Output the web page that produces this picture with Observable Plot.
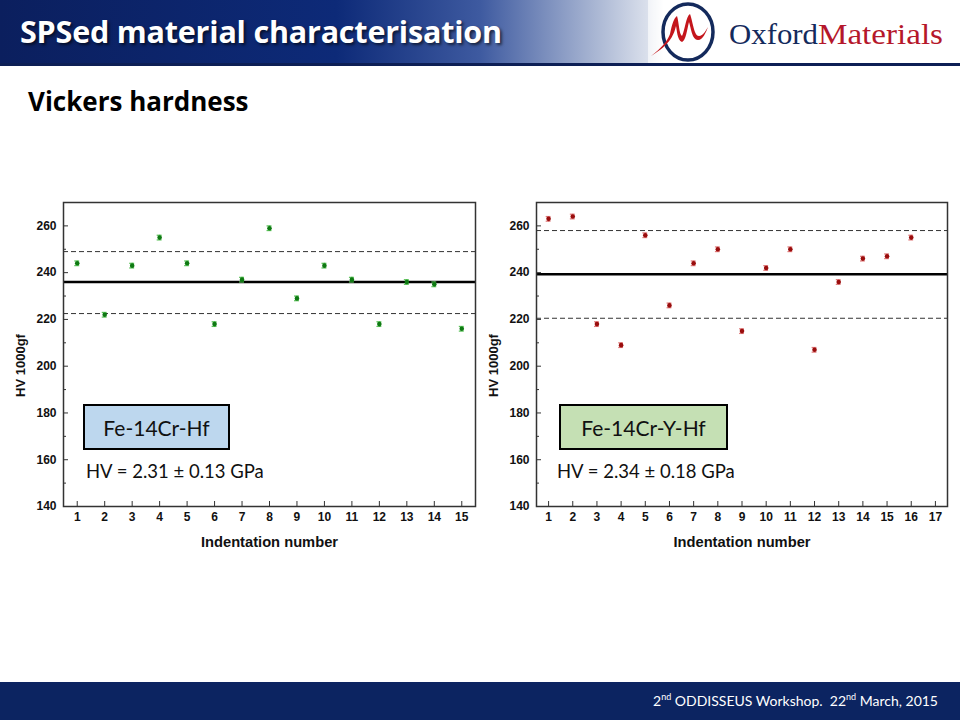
<!DOCTYPE html>
<html>
<head>
<meta charset="utf-8">
<script src="https://cdn.jsdelivr.net/npm/d3@7"></script>
<script src="https://cdn.jsdelivr.net/npm/@observablehq/plot@0.6"></script>
<style>
  html, body { margin: 0; padding: 0; }
  body { width: 960px; height: 720px; position: relative; overflow: hidden; background: #fff; font-family: Lato, "Open Sans", sans-serif; }
  #header { position: absolute; left: 0; top: 0; width: 960px; height: 63px;
    background: linear-gradient(to right, #0b1f5e 0%, #0d2a78 35%, #3e5aa0 50%, #a9b6d3 62%, #dfe4ee 68%); }
  #headline { position: absolute; left: 0; top: 63px; width: 960px; height: 3px; background: #0d1f55; }
  #title { position: absolute; left: 20px; top: 10px; color: #fff; font-family: "Open Sans", sans-serif; font-weight: 700; font-size: 30.5px; letter-spacing: -0.2px; text-shadow: 2px 2px 3px rgba(0,0,0,0.6); white-space: nowrap; }
  #logo { position: absolute; left: 648px; top: 0; }
  #sub { position: absolute; left: 28px; top: 83px; font-family: "Open Sans", sans-serif; font-weight: 700; font-size: 26px; color: #000; white-space: nowrap; }
  .chart { position: absolute; top: 190px; }
  .box { position: absolute; box-sizing: border-box; border: 2px solid #000; font-family: Lato, sans-serif; font-size: 21px; color: #111; display: flex; align-items: center; justify-content: center; }
  .hv { position: absolute; font-family: Lato, sans-serif; font-size: 18.5px; color: #111; white-space: nowrap; }
  #footer { position: absolute; left: 0; top: 682px; width: 960px; height: 38px; background: #0c2461; }
  #foottext { position: absolute; right: 22px; top: 691px; color: #fff; font-family: Lato, sans-serif; font-size: 14px; white-space: nowrap; }
  #foottext sup { font-size: 9px; }
</style>
</head>
<body>
<div id="header"></div>
<div id="headline"></div>
<div id="title">SPSed material characterisation</div>
<svg id="logo" width="312" height="63" viewBox="0 0 312 63">
  <defs>
    <linearGradient id="lg" x1="0" x2="1">
      <stop offset="0" stop-color="#fff" stop-opacity="0.6"/>
      <stop offset="0.05" stop-color="#fff" stop-opacity="1"/>
    </linearGradient>
  </defs>
  <rect x="0" y="0" width="312" height="63" fill="url(#lg)"/>
  <ellipse cx="40" cy="32" rx="25" ry="28" fill="none" stroke="#142a5c" stroke-width="3.5"/>
  <path d="M3,56 C14,48 20,40 22,34 C24,24 26,18 29,16 C31,22 31,34 34,36 C37,30 38,16 42,14 C45,22 46,36 51,36 C55,36 58,30 60,27 C58,32 55,40 50,40 C44,40 43,28 41,22 C39,30 38,40 34,42 C29,40 29,30 28,26 C26,34 23,44 3,56 Z" fill="#c4161c"/>
  <text x="81" y="44" font-family="Liberation Serif, serif" font-size="29" fill="#142a5c" textLength="89" lengthAdjust="spacingAndGlyphs">Oxford</text>
  <text x="170" y="44" font-family="Liberation Serif, serif" font-size="29" fill="#b5172b" textLength="125" lengthAdjust="spacingAndGlyphs">Materials</text>
</svg>
<div id="sub">Vickers hardness</div>

<div id="left" class="chart" style="left:0px"></div>
<div id="right" class="chart" style="left:480px"></div>

<div class="box" style="left:83px; top:404px; width:147px; height:46px; background:#bdd7ee;">Fe-14Cr-Hf</div>
<div class="hv" style="left:86px; top:460px;">HV = 2.31 ± 0.13 GPa</div>
<div class="box" style="left:559px; top:404px; width:169px; height:46px; background:#c5e0b4;">Fe-14Cr-Y-Hf</div>
<div class="hv" style="left:557px; top:460px;">HV = 2.34 ± 0.18 GPa</div>

<div id="footer"></div>
<div id="foottext">2<sup>nd</sup> ODDISSEUS Workshop.&nbsp; 22<sup>nd</sup> March, 2015</div>

<script>
// ---- data ----
const indexA = [1,2,3,4,5,6,7,8,9,10,11,12,13,14,15];
const hvA    = [244,222,243,255,244,218,237,259,229,243,237,218,236,235,216];
const errA   = [1,1,1,1,1,1,1,1,1,1,1,1,1,1,1];
const meanA  = 236;
const bandA  = [222.5, 249];

const indexB = [1,2,3,4,5,6,7,8,9,10,11,12,13,14,15,16];
const hvB    = [263,264,218,209,256,226,244,250,215,242,250,207,236,246,247,255];
const errB   = [1,1,1,1,1,1,1,1,1,1,1,1,1,1,1,1];
const meanB  = 239.3;
const bandB  = [220.5, 258];

const xTicksA = [1,2,3,4,5,6,7,8,9,10,11,12,13,14,15];
const xTicksB = [1,2,3,4,5,6,7,8,9,10,11,12,13,14,15,16,17];
const yTicks  = [140,160,180,200,220,240,260];
const yMinor  = [150,170,190,210,230,250,270];

function chart({idx, hv, err, mean, band, xTicks, xmax, dotColor, barColor, ml, mr, capW}) {
  const data = idx.map((x, i) => ({x, y: hv[i], e: err[i]}));
  return Plot.plot({
    width: 480, height: 370,
    marginLeft: ml, marginRight: mr, marginTop: 12, marginBottom: 54,
    x: {domain: [0.5, xmax + 0.5]},
    y: {domain: [140, 270]},
    style: {fontFamily: "'Liberation Sans', Arial, sans-serif", fontWeight: "bold", fontSize: "12px", color: "#111", background: "transparent"},
    marks: [
      Plot.ruleY(band, {stroke: "#333", strokeWidth: 1, strokeDasharray: "5,3"}),
      Plot.ruleY([mean], {stroke: "#000", strokeWidth: 2.5}),
      Plot.ruleX(data, {x: "x", y1: d => d.y - d.e, y2: d => d.y + d.e, stroke: barColor, strokeWidth: 1.2}),
      Plot.ruleY(data, {y: d => d.y + d.e, x1: d => d.x - capW, x2: d => d.x + capW, stroke: barColor, strokeWidth: 1.2}),
      Plot.ruleY(data, {y: d => d.y - d.e, x1: d => d.x - capW, x2: d => d.x + capW, stroke: barColor, strokeWidth: 1.2}),
      Plot.dot(data, {x: "x", y: "y", r: 2.3, fill: dotColor, stroke: "none"}),
      Plot.frame({stroke: "#333", strokeWidth: 1.5}),
      Plot.axisY(yTicks, {tickSize: 0, tickPadding: 7, label: null}),
      Plot.axisY(yTicks, {tickSize: -5, tickFormat: () => "", label: null, stroke: "#333"}),
      Plot.axisY(yMinor, {tickSize: -3, tickFormat: () => "", label: null, stroke: "#333"}),
      Plot.axisX(xTicks, {tickSize: 0, tickPadding: 6, label: null}),
      Plot.axisX(xTicks, {tickSize: -5, tickFormat: () => "", label: null, stroke: "#333"}),
      Plot.text(["Indentation number"], {frameAnchor: "bottom", lineAnchor: "middle", textAnchor: "middle", dy: 36, fontSize: 14.7, fontWeight: "bold", fill: "#111"}),
      Plot.text(["HV 1000gf"], {frameAnchor: "left", textAnchor: "middle", lineAnchor: "middle", rotate: -90, dx: -43, dy: 11, fontSize: 13, fontWeight: "bold", fill: "#111"})
    ]
  });
}

document.getElementById("left").append(chart({
  idx: indexA, hv: hvA, err: errA, mean: meanA, band: bandA, xTicks: xTicksA, xmax: 15,
  dotColor: "#0e7a12", barColor: "#5cc35a", ml: 63, mr: 5, capW: 0.09
}));
document.getElementById("right").append(chart({
  idx: indexB, hv: hvB, err: errB, mean: meanB, band: bandB, xTicks: xTicksB, xmax: 17,
  dotColor: "#9a0d0d", barColor: "#e07a7a", ml: 56, mr: 13, capW: 0.1
}));
</script>
</body>
</html>
